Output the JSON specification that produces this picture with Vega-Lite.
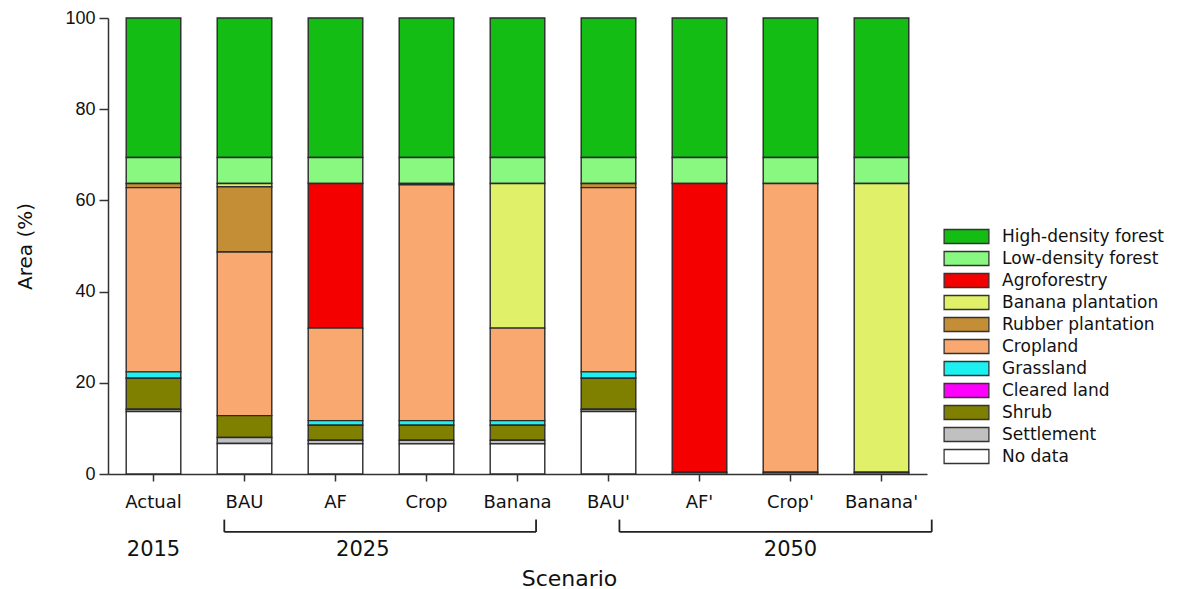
{
  "$schema": "https://vega.github.io/schema/vega-lite/v6.json",
  "autosize": "none",
  "padding": {"left": 108, "top": 18, "right": 252, "bottom": 115},
  "width": 819,
  "height": 456,
  "background": "white",
  "config": {
    "view": {"stroke": null},
    "font": "DejaVu Sans",
    "axis": {"domainColor": "#333333", "domainWidth": 1.5, "tickColor": "#333333", "tickWidth": 1.5, "labelColor": "#111111", "titleColor": "#111111", "grid": false, "labelFont": "DejaVu Sans", "titleFont": "DejaVu Sans", "titleFontWeight": "normal"}
  },
  "datasets": {
    "classes": [
      {"cls": "No data", "rank": 1},
      {"cls": "Settlement", "rank": 2},
      {"cls": "Shrub", "rank": 3},
      {"cls": "Cleared land", "rank": 4},
      {"cls": "Grassland", "rank": 5},
      {"cls": "Cropland", "rank": 6},
      {"cls": "Rubber plantation", "rank": 7},
      {"cls": "Banana plantation", "rank": 8},
      {"cls": "Agroforestry", "rank": 9},
      {"cls": "Low-density forest", "rank": 10},
      {"cls": "High-density forest", "rank": 11}
    ],
    "areas": [
      {"scenario": "Actual", "cls": "High-density forest", "value": 30.6},
      {"scenario": "Actual", "cls": "Low-density forest", "value": 5.7},
      {"scenario": "Actual", "cls": "Rubber plantation", "value": 0.9},
      {"scenario": "Actual", "cls": "Cropland", "value": 40.4},
      {"scenario": "Actual", "cls": "Grassland", "value": 1.4},
      {"scenario": "Actual", "cls": "Shrub", "value": 6.8},
      {"scenario": "Actual", "cls": "Settlement", "value": 0.5},
      {"scenario": "Actual", "cls": "No data", "value": 13.7},
      {"scenario": "BAU", "cls": "High-density forest", "value": 30.6},
      {"scenario": "BAU", "cls": "Low-density forest", "value": 5.7},
      {"scenario": "BAU", "cls": "Banana plantation", "value": 0.7},
      {"scenario": "BAU", "cls": "Rubber plantation", "value": 14.3},
      {"scenario": "BAU", "cls": "Cropland", "value": 35.9},
      {"scenario": "BAU", "cls": "Shrub", "value": 4.8},
      {"scenario": "BAU", "cls": "Settlement", "value": 1.3},
      {"scenario": "BAU", "cls": "No data", "value": 6.7},
      {"scenario": "AF", "cls": "High-density forest", "value": 30.6},
      {"scenario": "AF", "cls": "Low-density forest", "value": 5.7},
      {"scenario": "AF", "cls": "Agroforestry", "value": 31.7},
      {"scenario": "AF", "cls": "Cropland", "value": 20.3},
      {"scenario": "AF", "cls": "Grassland", "value": 1.0},
      {"scenario": "AF", "cls": "Shrub", "value": 3.3},
      {"scenario": "AF", "cls": "Settlement", "value": 0.8},
      {"scenario": "AF", "cls": "No data", "value": 6.6},
      {"scenario": "Crop", "cls": "High-density forest", "value": 30.6},
      {"scenario": "Crop", "cls": "Low-density forest", "value": 5.7},
      {"scenario": "Crop", "cls": "Rubber plantation", "value": 0.3},
      {"scenario": "Crop", "cls": "Cropland", "value": 51.7},
      {"scenario": "Crop", "cls": "Grassland", "value": 1.0},
      {"scenario": "Crop", "cls": "Shrub", "value": 3.3},
      {"scenario": "Crop", "cls": "Settlement", "value": 0.8},
      {"scenario": "Crop", "cls": "No data", "value": 6.6},
      {"scenario": "Banana", "cls": "High-density forest", "value": 30.6},
      {"scenario": "Banana", "cls": "Low-density forest", "value": 5.7},
      {"scenario": "Banana", "cls": "Banana plantation", "value": 31.7},
      {"scenario": "Banana", "cls": "Cropland", "value": 20.3},
      {"scenario": "Banana", "cls": "Grassland", "value": 1.0},
      {"scenario": "Banana", "cls": "Shrub", "value": 3.3},
      {"scenario": "Banana", "cls": "Settlement", "value": 0.8},
      {"scenario": "Banana", "cls": "No data", "value": 6.6},
      {"scenario": "BAU'", "cls": "High-density forest", "value": 30.6},
      {"scenario": "BAU'", "cls": "Low-density forest", "value": 5.7},
      {"scenario": "BAU'", "cls": "Rubber plantation", "value": 0.9},
      {"scenario": "BAU'", "cls": "Cropland", "value": 40.4},
      {"scenario": "BAU'", "cls": "Grassland", "value": 1.4},
      {"scenario": "BAU'", "cls": "Shrub", "value": 6.8},
      {"scenario": "BAU'", "cls": "Settlement", "value": 0.5},
      {"scenario": "BAU'", "cls": "No data", "value": 13.7},
      {"scenario": "AF'", "cls": "High-density forest", "value": 30.6},
      {"scenario": "AF'", "cls": "Low-density forest", "value": 5.7},
      {"scenario": "AF'", "cls": "Agroforestry", "value": 63.3},
      {"scenario": "AF'", "cls": "No data", "value": 0.4},
      {"scenario": "Crop'", "cls": "High-density forest", "value": 30.6},
      {"scenario": "Crop'", "cls": "Low-density forest", "value": 5.7},
      {"scenario": "Crop'", "cls": "Cropland", "value": 63.3},
      {"scenario": "Crop'", "cls": "No data", "value": 0.4},
      {"scenario": "Banana'", "cls": "High-density forest", "value": 30.6},
      {"scenario": "Banana'", "cls": "Low-density forest", "value": 5.7},
      {"scenario": "Banana'", "cls": "Banana plantation", "value": 63.3},
      {"scenario": "Banana'", "cls": "No data", "value": 0.4}
    ],
    "years": [
      {"year": "2015", "anchor": "Actual"},
      {"year": "2050", "anchor": "Crop'"}
    ],
    "year2025": [
      {"year": "2025", "anchor": "AF"}
    ],
    "bracketA": [
      {"year": "2025", "start": "BAU", "end": "Banana"}
    ],
    "bracketB": [
      {"year": "2050", "start": "BAU'", "end": "Banana'"}
    ]
  },
  "layer": [
    {
      "data": {"name": "areas"},
      "transform": [
        {"lookup": "cls", "from": {"data": {"name": "classes"}, "key": "cls", "fields": ["rank"]}}
      ],
      "mark": {"type": "bar", "stroke": "#2b2b2b", "strokeWidth": 1.4},
      "encoding": {
        "x": {
          "field": "scenario", "type": "nominal",
          "scale": {"domain": ["Actual", "BAU", "AF", "Crop", "Banana", "BAU'", "AF'", "Crop'", "Banana'"], "paddingInner": 0.4, "paddingOuter": 0.2},
          "axis": {"title": "Scenario", "labelAngle": 0, "labelFontSize": 18, "labelPadding": 12, "tickSize": 7, "titleFontSize": 22, "titleX": 461, "titleY": 104, "titleBaseline": "middle", "titleAlign": "center"}
        },
        "y": {
          "field": "value", "type": "quantitative", "stack": "zero",
          "scale": {"domain": [0, 100], "nice": false},
          "axis": {"title": "Area (%)", "values": [0, 20, 40, 60, 80, 100], "labelFont": "Liberation Sans", "labelFontSize": 18, "tickSize": 9, "labelPadding": 4, "titleFontSize": 20, "titleAngle": -90, "titleX": -83, "titleY": 228, "titleAlign": "center", "titleBaseline": "middle"}
        },
        "order": {"field": "rank", "type": "quantitative", "sort": "ascending"},
        "color": {
          "field": "cls", "type": "nominal",
          "scale": {
            "domain": ["High-density forest", "Low-density forest", "Agroforestry", "Banana plantation", "Rubber plantation", "Cropland", "Grassland", "Cleared land", "Shrub", "Settlement", "No data"],
            "range": ["#14BD14", "#88F880", "#F50000", "#E0F068", "#C48E36", "#F9A86F", "#1CF0F0", "#FF00FF", "#7F7F00", "#C0C0C0", "#FFFFFF"]
          },
          "legend": {
            "title": null, "orient": "none", "legendX": 850, "legendY": 210,
            "symbolType": "M-3.2,-1H3.2V1H-3.2Z", "symbolSize": 196,
            "symbolStrokeColor": "#333333", "symbolStrokeWidth": 1.3, "symbolOpacity": 1,
            "labelFont": "DejaVu Sans", "labelFontSize": 17, "labelColor": "#111111", "labelOffset": 27, "labelLimit": 300, "rowPadding": 1
          }
        }
      }
    },
    {
      "data": {"name": "years"},
      "mark": {"type": "text", "fontSize": 21, "baseline": "middle", "align": "center", "color": "#111111"},
      "encoding": {
        "x": {"field": "anchor", "type": "nominal", "bandPosition": 0.5, "scale": {"domain": ["Actual", "BAU", "AF", "Crop", "Banana", "BAU'", "AF'", "Crop'", "Banana'"]}},
        "y": {"datum": -16.7, "type": "quantitative", "scale": {"domain": [0, 100], "nice": false}},
        "text": {"field": "year"}
      }
    },
    {
      "data": {"name": "year2025"},
      "mark": {"type": "text", "fontSize": 21, "baseline": "middle", "align": "center", "color": "#111111"},
      "encoding": {
        "x": {"field": "anchor", "type": "nominal", "bandPosition": 1.0, "scale": {"domain": ["Actual", "BAU", "AF", "Crop", "Banana", "BAU'", "AF'", "Crop'", "Banana'"]}},
        "y": {"datum": -16.7, "type": "quantitative", "scale": {"domain": [0, 100], "nice": false}},
        "text": {"field": "year"}
      }
    },
    {
      "data": {"name": "bracketA"},
      "mark": {"type": "rule", "color": "#222222", "strokeWidth": 1.8},
      "encoding": {
        "x": {"field": "start", "type": "nominal", "bandPosition": 0.13, "scale": {"domain": ["Actual", "BAU", "AF", "Crop", "Banana", "BAU'", "AF'", "Crop'", "Banana'"]}},
        "x2": {"field": "end", "bandPosition": 0.84},
        "y": {"datum": -12.7, "type": "quantitative", "scale": {"domain": [0, 100], "nice": false}}
      }
    },
    {
      "data": {"name": "bracketA"},
      "mark": {"type": "rule", "color": "#222222", "strokeWidth": 1.8},
      "encoding": {
        "x": {"field": "start", "type": "nominal", "bandPosition": 0.13, "scale": {"domain": ["Actual", "BAU", "AF", "Crop", "Banana", "BAU'", "AF'", "Crop'", "Banana'"]}},
        "y": {"datum": -10.0, "type": "quantitative", "scale": {"domain": [0, 100], "nice": false}},
        "y2": {"datum": -12.7}
      }
    },
    {
      "data": {"name": "bracketA"},
      "mark": {"type": "rule", "color": "#222222", "strokeWidth": 1.8},
      "encoding": {
        "x": {"field": "end", "type": "nominal", "bandPosition": 0.84, "scale": {"domain": ["Actual", "BAU", "AF", "Crop", "Banana", "BAU'", "AF'", "Crop'", "Banana'"]}},
        "y": {"datum": -10.0, "type": "quantitative", "scale": {"domain": [0, 100], "nice": false}},
        "y2": {"datum": -12.7}
      }
    },
    {
      "data": {"name": "bracketB"},
      "mark": {"type": "rule", "color": "#222222", "strokeWidth": 1.8},
      "encoding": {
        "x": {"field": "start", "type": "nominal", "bandPosition": 0.7, "scale": {"domain": ["Actual", "BAU", "AF", "Crop", "Banana", "BAU'", "AF'", "Crop'", "Banana'"]}},
        "x2": {"field": "end", "bandPosition": 1.42},
        "y": {"datum": -12.7, "type": "quantitative", "scale": {"domain": [0, 100], "nice": false}}
      }
    },
    {
      "data": {"name": "bracketB"},
      "mark": {"type": "rule", "color": "#222222", "strokeWidth": 1.8},
      "encoding": {
        "x": {"field": "start", "type": "nominal", "bandPosition": 0.7, "scale": {"domain": ["Actual", "BAU", "AF", "Crop", "Banana", "BAU'", "AF'", "Crop'", "Banana'"]}},
        "y": {"datum": -10.0, "type": "quantitative", "scale": {"domain": [0, 100], "nice": false}},
        "y2": {"datum": -12.7}
      }
    },
    {
      "data": {"name": "bracketB"},
      "mark": {"type": "rule", "color": "#222222", "strokeWidth": 1.8},
      "encoding": {
        "x": {"field": "end", "type": "nominal", "bandPosition": 1.42, "scale": {"domain": ["Actual", "BAU", "AF", "Crop", "Banana", "BAU'", "AF'", "Crop'", "Banana'"]}},
        "y": {"datum": -10.0, "type": "quantitative", "scale": {"domain": [0, 100], "nice": false}},
        "y2": {"datum": -12.7}
      }
    }
  ]
}
